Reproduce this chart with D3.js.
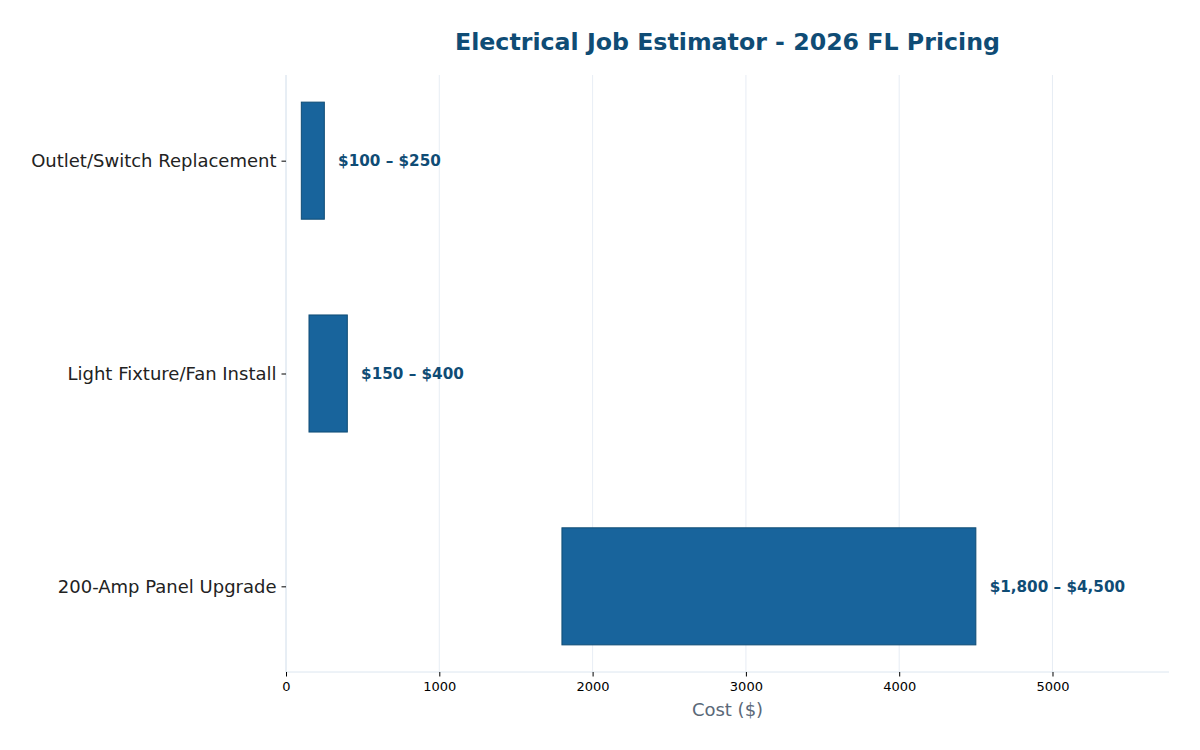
<!DOCTYPE html>
<html>
<head>
<meta charset="utf-8">
<script src="https://cdn.jsdelivr.net/npm/d3@7"></script>
<style>
  body { margin: 0; background: #fff; }
  svg { font-family: "DejaVu Sans", sans-serif; }
</style>
</head>
<body>
<script>
/* Electrical job estimator - horizontal range bars */

const jobs = ["Outlet/Switch Replacement", "Light Fixture/Fan Install", "200-Amp Panel Upgrade"];
const lowCost = [100, 150, 1800];
const highCost = [250, 400, 4500];
const xTicks = [0, 1000, 2000, 3000, 4000, 5000];

const w = 1200,
      h = 750,
      plotLeft = 286,
      plotRight = 1169,
      plotTop = 75,
      plotBottom = 672;

const fmt = d3.format(",");

const svg = d3.select("body")
  .append("svg")
  .attr("width", w)
  .attr("height", h);

/* Scales */

const x = d3.scaleLinear()
  .domain([0, d3.max(highCost) * 1.28])
  .range([plotLeft, plotRight]);

// bars sit at 0,1,2 with height 0.55, matplotlib-like margins
const y = d3.scaleLinear()
  .domain([-0.4025, 2.4025])
  .range([plotTop, plotBottom]);

const barH = 0.55;

/* Grid */

svg.append("g")
  .selectAll("line")
  .data(xTicks)
  .enter()
  .append("line")
  .attr("x1", d => x(d))
  .attr("x2", d => x(d))
  .attr("y1", plotTop)
  .attr("y2", plotBottom)
  .attr("stroke", "#e1e9f1")
  .attr("stroke-width", 0.8);

/* Spines */

svg.append("line")
  .attr("x1", plotLeft).attr("x2", plotLeft)
  .attr("y1", plotTop).attr("y2", plotBottom)
  .attr("stroke", "#dce6f0");
svg.append("line")
  .attr("x1", plotLeft).attr("x2", plotRight)
  .attr("y1", plotBottom).attr("y2", plotBottom)
  .attr("stroke", "#dce6f0");

/* Bars */

svg.append("g")
  .selectAll("rect")
  .data(jobs)
  .enter()
  .append("rect")
  .attr("x", (d, i) => x(lowCost[i]))
  .attr("y", (d, i) => y(i - barH / 2))
  .attr("width", (d, i) => x(highCost[i]) - x(lowCost[i]))
  .attr("height", y(barH) - y(0))
  .attr("fill", "#18649c")
  .attr("stroke", "#0f4c75")
  .attr("stroke-width", 1);

/* Value labels */

svg.append("g")
  .selectAll("text")
  .data(jobs)
  .enter()
  .append("text")
  .attr("x", (d, i) => x(highCost[i] + 90))
  .attr("y", (d, i) => y(i))
  .attr("dy", "0.35em")
  .attr("fill", "#0f4c75")
  .attr("font-weight", "bold")
  .attr("font-size", 15.2)
  .text((d, i) => "$" + fmt(lowCost[i]) + " \u2013 $" + fmt(highCost[i]));

/* Axes */

const xAxis = svg.append("g")
  .attr("transform", "translate(0," + plotBottom + ")")
  .call(d3.axisBottom(x).tickValues(xTicks).tickSize(4.5).tickPadding(5).tickFormat(d3.format("d")));
xAxis.select(".domain").remove();
xAxis.selectAll("text").attr("font-size", 13).attr("fill", "#000").attr("font-family", "DejaVu Sans");
xAxis.selectAll("line").attr("stroke", "#000");

const yAxis = svg.append("g")
  .attr("transform", "translate(" + plotLeft + ",0)")
  .call(d3.axisLeft(y).tickValues([0, 1, 2]).tickSize(4.5).tickPadding(5).tickFormat(i => jobs[i]));
yAxis.select(".domain").remove();
yAxis.selectAll("text").attr("font-size", 18).attr("fill", "#222").attr("font-family", "DejaVu Sans");
yAxis.selectAll("line").attr("stroke", "#000");

/* Titles */

svg.append("text")
  .attr("x", (plotLeft + plotRight) / 2)
  .attr("y", 50)
  .attr("text-anchor", "middle")
  .attr("font-size", 23.7)
  .attr("font-weight", "bold")
  .attr("fill", "#0f4c75")
  .text("Electrical Job Estimator - 2026 FL Pricing");

svg.append("text")
  .attr("x", (plotLeft + plotRight) / 2)
  .attr("y", 716)
  .attr("text-anchor", "middle")
  .attr("font-size", 18)
  .attr("fill", "#5a6878")
  .text("Cost ($)");
</script>
</body>
</html>
